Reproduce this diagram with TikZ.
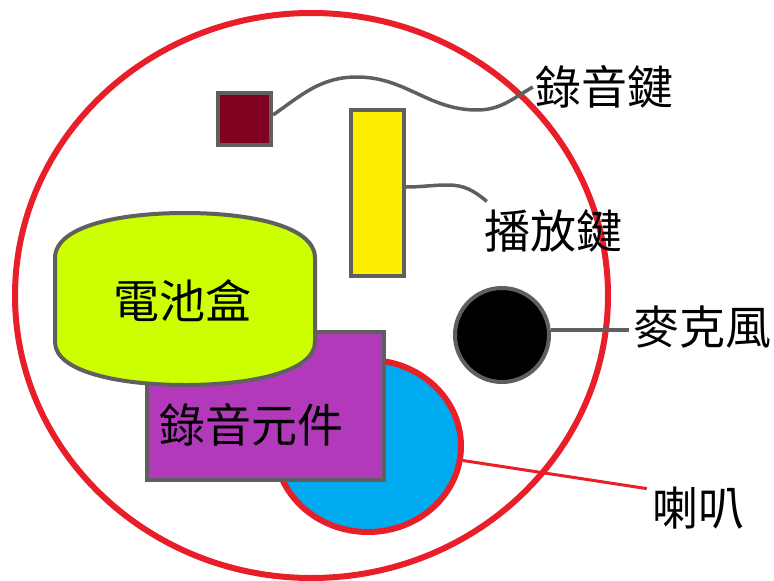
\documentclass[tikz,border=0pt]{standalone}
\usepackage{fontspec}
\newfontfamily\cjk{Noto Sans CJK TC}
\usetikzlibrary{shapes.geometric}

\definecolor{casered}{RGB}{232,30,40}
\definecolor{partgray}{RGB}{95,95,95}
\definecolor{keyred}{RGB}{128,0,32}
\definecolor{keyyellow}{RGB}{255,238,0}
\definecolor{batlime}{RGB}{204,255,0}
\definecolor{unitpurple}{RGB}{178,58,186}
\definecolor{spkblue}{RGB}{0,170,238}

\begin{document}
\begin{tikzpicture}[x=1pt, y=-1pt, font=\cjk\fontsize{46}{46}\selectfont,
		part/.style={draw=partgray, line width=4pt, inner sep=0pt},
		wire/.style={draw=partgray, line width=3.5pt},
		lbl/.style={inner sep=0pt}]
				\useasboundingbox (0,0) rectangle (774,581);
				% casing
				\draw[casered, line width=6pt] (311.5,295.5) ellipse [x radius=296.5, y radius=282.5];
				% parts
				\node[ellipse, draw=casered, line width=6pt, fill=spkblue, inner sep=0pt, minimum width=186pt, minimum height=172pt] (speaker) at (368,446) {};
				\node[part, fill=unitpurple, minimum width=237pt, minimum height=148pt] (recbox) at (265.5,406) {};
				\node[lbl] (recunit) at (251,425) {錄音元件};
				\draw[part, fill=batlime] (55,258) .. controls (55,226) and (120,213) .. (185,213) .. controls (250,213) and (315,226) .. (315,258)
					-- (315,342) .. controls (315,372) and (250,385) .. (185,385) .. controls (120,385) and (55,372) .. (55,342) -- cycle;
				\node[lbl] (battery) at (182,301) {電池盒};
				\node[part, fill=keyred, minimum width=53pt, minimum height=52pt] (reckey) at (244.5,119) {};
				\node[part, fill=keyyellow, minimum width=53pt, minimum height=166pt] (playkey) at (377.5,193) {};
				\node[part, circle, fill=black, minimum size=94pt] (mic) at (502,335) {};
				% labels
				\node[lbl] (reclbl) at (604,87) {錄音鍵};
				\node[lbl] (playlbl) at (553,231) {播放鍵};
				\node[lbl] (miclbl) at (702,327) {麥克風};
				\node[lbl] (spklbl) at (698,508) {喇叭};
				% connectors
				\draw[wire] ([yshift=4pt]reckey.east) to[out=35,in=180] (357,77) to[out=0,in=180] (477,110)
					to[out=0,in=210] ([xshift=-2pt]reclbl.west);
				\draw[wire] ([yshift=6pt]playkey.east) to[out=0,in=180] (448,185) to[out=0,in=140] ([xshift=3pt,yshift=8pt]playlbl.north west);
				\draw[wire] ([yshift=5pt]mic.east) -- ([xshift=-4pt,yshift=-3pt]miclbl.west);
				\path[draw=casered, line width=3pt] (speaker) edge ([xshift=-5pt,yshift=-2pt]spklbl.north west);
			\end{tikzpicture}
\end{document}
